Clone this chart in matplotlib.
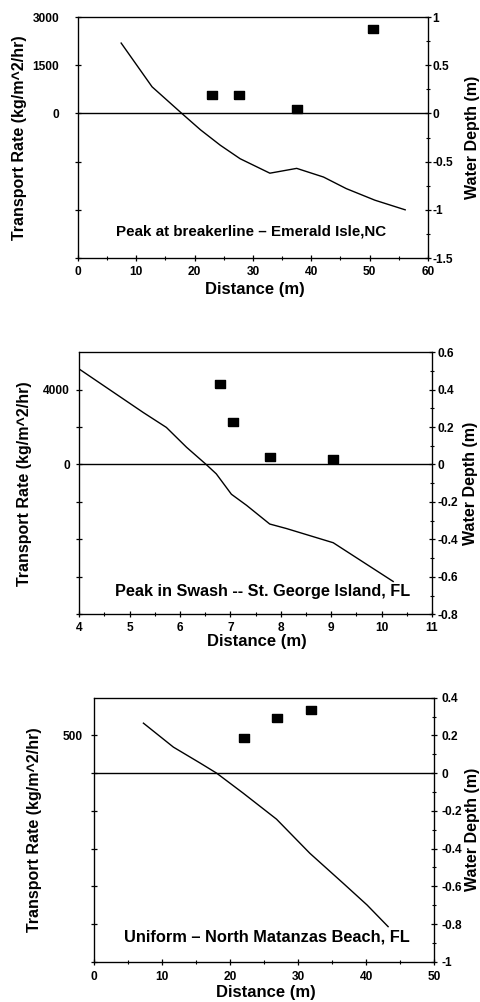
import matplotlib
matplotlib.use('Agg')
import matplotlib.pyplot as plt
from matplotlib.ticker import FixedLocator, MultipleLocator, FuncFormatter

plt.rcParams['font.family'] = ['Liberation Sans', 'DejaVu Sans']
plt.rcParams['font.weight'] = 'bold'
plt.rcParams['axes.labelweight'] = 'bold'
plt.rcParams['axes.unicode_minus'] = False

# --- Emerald Isle, NC ---
ei_sq_dist = [23.0, 27.6, 37.6, 50.6]
ei_rate = [560, 560, 150, 2620]
ei_prof_dist = [7.4, 12.7, 17.8, 21.0, 24.4, 27.8, 32.9, 37.5, 42.1, 46.0, 50.9, 56.1]
ei_depth = [0.73, 0.276, 0.0, -0.17, -0.33, -0.47, -0.62, -0.57, -0.66, -0.78, -0.90, -1.0]

# --- St. George Island, FL ---
sg_sq_dist = [6.79, 7.05, 7.79, 9.04]
sg_rate = [4300, 2250, 400, 270]
sg_prof_dist = [4.0, 5.27, 5.73, 6.13, 6.52, 6.72, 7.02, 7.32, 7.78, 8.11, 9.04, 10.23]
sg_depth = [0.51, 0.278, 0.198, 0.092, 0.0, -0.05, -0.159, -0.218, -0.318, -0.342, -0.418, -0.625]

# --- North Matanzas Beach, FL ---
nm_sq_dist = [22.0, 26.9, 31.8]
nm_rate = [470, 730, 840]
nm_prof_dist = [7.25, 11.65, 15.6, 18.0, 21.9, 26.8, 31.7, 36.6, 40.1, 43.2]
nm_depth = [0.265, 0.138, 0.053, 0.0, -0.106, -0.244, -0.425, -0.584, -0.699, -0.814]

# slightly wide square marker like the original
rect_marker = [(-1.3, -1), (1.3, -1), (1.3, 1), (-1.3, 1), (-1.3, -1)]


def gfmt(v, pos):
    return '%g' % round(v, 3)


def panel(rect, sq_x, sq_y, px, py, xlim, xmaj, xmin, ylim, yticks, ylabels,
          dlim, dmaj, dmin, title, tsize, title_xy, pads, ylab_x, xlab_y, rlab_x):
    lpad, bpad, rpad = pads
    ax = fig.add_axes(rect)
    ax.plot(sq_x, sq_y, marker=rect_marker, ls='none', color='black',
            markersize=7.5, zorder=3, clip_on=False)
    ax.axhline(0, color='black', lw=1.0)
    ax.set_xlim(*xlim)
    ax.set_ylim(*ylim)
    ax.xaxis.set_major_locator(MultipleLocator(xmaj))
    ax.xaxis.set_minor_locator(MultipleLocator(xmin))
    ax.xaxis.set_major_formatter(FuncFormatter(gfmt))
    ax.yaxis.set_major_locator(FixedLocator(yticks))
    ax.set_yticklabels(ylabels)
    ax.tick_params(direction='inout', length=5, width=0.9, labelsize=8.6)
    ax.tick_params(axis='y', pad=lpad)
    ax.tick_params(axis='x', pad=bpad)
    ax.tick_params(which='minor', direction='inout', length=3, width=0.8)
    ax.set_xlabel('Distance (m)', fontsize=12)
    ax.set_ylabel('Transport Rate (kg/m^2/hr)', fontsize=11.5)
    ax.yaxis.set_label_coords(ylab_x, 0.5)
    ax.xaxis.set_label_coords(0.505, xlab_y)
    for s in ax.spines.values():
        s.set_linewidth(0.9)
    ax.text(title_xy[0], title_xy[1], title, transform=ax.transAxes,
            fontsize=tsize, fontweight='bold', ha='center', va='center')

    ax2 = ax.twinx()
    ax2.plot(px, py, color='black', lw=1.0)
    ax2.set_ylim(*dlim)
    ax2.yaxis.set_major_locator(MultipleLocator(dmaj))
    ax2.yaxis.set_minor_locator(MultipleLocator(dmin))
    ax2.yaxis.set_major_formatter(FuncFormatter(gfmt))
    ax2.tick_params(direction='inout', length=5, width=0.9, labelsize=8.6, pad=rpad)
    ax2.tick_params(which='minor', direction='inout', length=3, width=0.8)
    ax2.set_ylabel('Water Depth (m)', fontsize=11.5)
    ax2.yaxis.set_label_coords(rlab_x, 0.5)
    return ax, ax2


fig = plt.figure(figsize=(4.8, 10.02), dpi=100)

panel([0.1625, 0.7425, 0.729, 0.2405], ei_sq_dist, ei_rate, ei_prof_dist, ei_depth,
      (0, 60), 10, 5, (-4500, 3000),
      [-4500, -3000, -1500, 0, 1500, 3000], ['', '', '', '0', '1500', '3000'],
      (-1.5, 1.0), 0.5, 0.25,
      'Peak at breakerline \u2013 Emerald Isle,NC', 10.9, (0.494, 0.108),
      (11.0, 3.3, 0.6), -0.146, -0.10, 1.106)

panel([0.165, 0.387, 0.735, 0.2615], sg_sq_dist, sg_rate, sg_prof_dist, sg_depth,
      (4, 11), 1, 0.5, (-8000, 6000),
      [-8000, -6000, -4000, -2000, 0, 2000, 4000], ['', '', '', '', '0', '', '4000'],
      (-0.8, 0.6), 0.2, 0.1,
      'Peak in Swash -- St. George Island, FL', 11.7, (0.519, 0.086),
      (4.0, 3.2, 1.8), -0.134, -0.075, 1.088)

panel([0.196, 0.0402, 0.709, 0.2635], nm_sq_dist, nm_rate, nm_prof_dist, nm_depth,
      (0, 50), 10, 5, (-2500, 1000),
      [-2500, -2000, -1500, -1000, -500, 0, 500], ['', '', '', '', '', '', '500'],
      (-1.0, 0.4), 0.2, 0.1,
      'Uniform \u2013 North Matanzas Beach, FL', 11.8, (0.508, 0.095),
      (5.4, 4.0, 2.8), -0.153, -0.088, 1.09)

fig.savefig('out.png', dpi=100)
